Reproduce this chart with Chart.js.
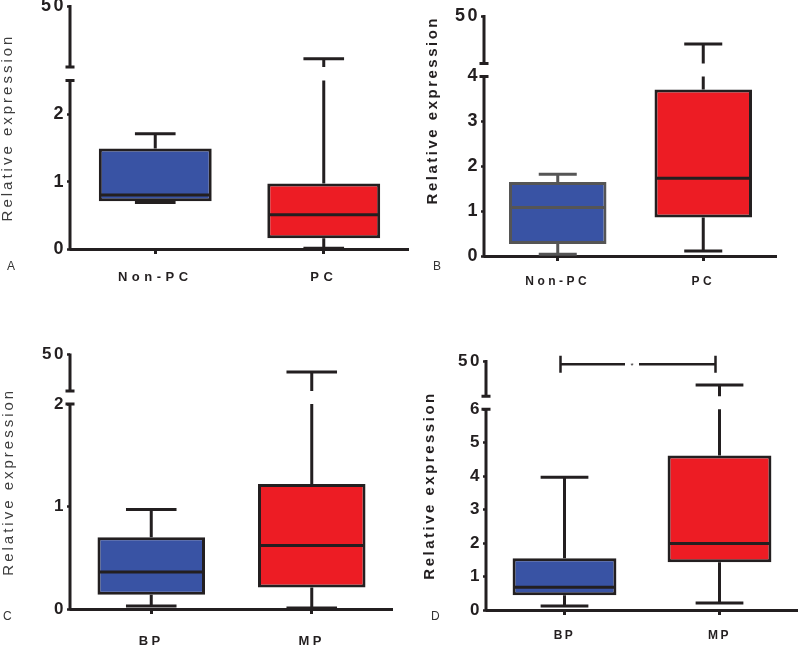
<!DOCTYPE html>
<html>
<head>
<meta charset="utf-8">
<script src="https://cdn.jsdelivr.net/npm/chart.js@4/dist/chart.umd.min.js"></script>
<style>
  body { margin: 0; width: 800px; height: 646px; position: relative; overflow: hidden; background: #fff;
         font-family: 'Liberation Sans', Arial, sans-serif; }
  canvas { position: absolute; }
  .tag { position: absolute; font-size: 12px; line-height: 12px; color: #333; }
</style>
</head>
<body>
<canvas id="chartA"></canvas>
<canvas id="chartB"></canvas>
<canvas id="chartC"></canvas>
<canvas id="chartD"></canvas>
<div class="tag" style="left:7px;top:260px">A</div>
<div class="tag" style="left:433px;top:260px">B</div>
<div class="tag" style="left:3px;top:610px">C</div>
<div class="tag" style="left:431px;top:610px">D</div>
<script>
const groupsPC = ['Non-PC', 'PC'];
const groupsMP = ['BP', 'MP'];

// A : box plot values (min, q1, median, q3, max)
const minA = [0.69, 0.01];
const q1A = [0.71, 0.16];
const medA = [0.80, 0.51];
const q3A = [1.49, 0.97];
const maxA = [1.71, 9];
const ticksA = [0, 1, 2, 50];
const breakA = 2.5;

// B
const minB = [0.04, 0.11];
const q1B = [0.27, 0.86];
const medB = [1.08, 1.73];
const q3B = [1.65, 3.71];
const maxB = [1.82, 23];
const ticksB = [0, 1, 2, 3, 4, 50];
const breakB = 4;

// C
const minC = [0.03, 0.01];
const q1C = [0.14, 0.21];
const medC = [0.36, 0.62];
const q3C = [0.70, 1.22];
const maxC = [0.97, 27];
const ticksC = [0, 1, 2, 50];
const breakC = 2;

// D
const minD = [0.12, 0.21];
const q1D = [0.44, 1.43];
const medD = [0.68, 1.99];
const q3D = [1.55, 4.62];
const maxD = [3.97, 20];
const ticksD = [0, 1, 2, 3, 4, 5, 6, 50];
const breakD = 6;
const sigPairD = [0, 1];
const sigLevelD = 46;
const sigTextD = '*';

const topValue = 50;
const dark = '#231f20';
const blue = '#3953a4';
const red = '#ed1c24';

Chart.defaults.font.family = "'Liberation Sans', Arial, sans-serif";
Chart.defaults.color = dark;

function spaced(ctx, px, fn) {
  ctx.save();
  ctx.letterSpacing = (px || 0) + 'px';
  fn();
  ctx.restore();
}

// linear scale with a gap between a lower and an upper segment
class BrokenScale extends Chart.LinearScale {
  static id = 'broken';
  getPixelForValue(v) {
    if (v === null || v === undefined || isNaN(v)) return NaN;
    const b = this.options.brk;
    const hiBottom = this.top + b.upperPx;
    const loTop = hiBottom + b.gapPx;
    if (v <= b.low) return this.bottom - (v - this.min) / (b.low - this.min) * (this.bottom - loTop);
    return hiBottom - (v - b.low) / (this.max - b.low) * (hiBottom - this.top);
  }
  drawBorder() {
    const ctx = this.ctx;
    const b = this.options.brk;
    const w = this.options.border.width;
    const x = this.right - w / 2 + 0.5;
    const hiBottom = this.top + b.upperPx;
    const loTop = hiBottom + b.gapPx;
    ctx.save();
    ctx.strokeStyle = this.options.border.color;
    ctx.lineWidth = w;
    ctx.beginPath();
    ctx.moveTo(x, this.top - 1); ctx.lineTo(x, hiBottom);
    ctx.moveTo(x, loTop); ctx.lineTo(x, this.bottom + w / 2);
    ctx.moveTo(x - 4.5, hiBottom); ctx.lineTo(x + 4.5, hiBottom);
    ctx.moveTo(x - 4.5, loTop); ctx.lineTo(x + 4.5, loTop);
    ctx.stroke();
    ctx.restore();
  }
  drawLabels(area) { spaced(this.ctx, this.options.labelSpacing, () => super.drawLabels(area)); }
  drawTitle() { spaced(this.ctx, this.options.titleSpacing, () => super.drawTitle()); }
}

class SpacedCategory extends Chart.CategoryScale {
  static id = 'spacedCategory';
  drawLabels(area) { spaced(this.ctx, this.options.labelSpacing, () => super.drawLabels(area)); }
}

Chart.register(BrokenScale, SpacedCategory);

const boxWhiskers = {
  id: 'boxWhiskers',
  afterDatasetsDraw(chart) {
    const {ctx, scales: {y}} = chart;
    const ds = chart.data.datasets[0];
    const meta = chart.getDatasetMeta(0);
    const b = y.options.brk;
    const hiBottom = y.top + b.upperPx;
    ctx.save();
    ctx.lineWidth = ds.borderWidth;
    meta.data.forEach((bar, i) => {
      const cx = bar.x;
      const halfBox = bar.width / 2 - ds.borderWidth / 2;
      const halfCap = bar.width * ds.capFrac / 2;
      ctx.strokeStyle = ds.borderColor[i];
      const yMed = y.getPixelForValue(ds.medians[i]);
      const yQ1 = y.getPixelForValue(ds.data[i][0]);
      const yQ3 = y.getPixelForValue(ds.data[i][1]);
      const yMin = y.getPixelForValue(ds.mins[i]);
      const yMax = y.getPixelForValue(ds.maxs[i]);
      ctx.beginPath();
      ctx.moveTo(cx - halfBox, yMed); ctx.lineTo(cx + halfBox, yMed);
      if (ds.maxs[i] > b.low) {
        ctx.moveTo(cx, yQ3); ctx.lineTo(cx, y.getPixelForValue(b.low));
        ctx.moveTo(cx, hiBottom); ctx.lineTo(cx, yMax);
      } else {
        ctx.moveTo(cx, yQ3); ctx.lineTo(cx, yMax);
      }
      ctx.moveTo(cx - halfCap, yMax); ctx.lineTo(cx + halfCap, yMax);
      ctx.moveTo(cx, yQ1); ctx.lineTo(cx, yMin);
      ctx.moveTo(cx - halfCap, yMin); ctx.lineTo(cx + halfCap, yMin);
      ctx.stroke();
    });
    ctx.restore();
  }
};

const sigBracket = {
  id: 'sigBracket',
  afterDatasetsDraw(chart, args, opts) {
    const {ctx, scales: {x, y}} = chart;
    const x1 = x.getPixelForValue(opts.pair[0]) - 4;
    const x2 = x.getPixelForValue(opts.pair[1]) - 4;
    const yy = y.getPixelForValue(opts.level);
    const mid = (x1 + x2) / 2 - 6;
    ctx.save();
    ctx.strokeStyle = dark;
    ctx.lineWidth = 2.5;
    ctx.beginPath();
    ctx.moveTo(x1, yy); ctx.lineTo(mid - 7, yy);
    ctx.moveTo(mid + 7, yy); ctx.lineTo(x2, yy);
    ctx.moveTo(x1, yy - 8.5); ctx.lineTo(x1, yy + 8.5);
    ctx.moveTo(x2, yy - 8.5); ctx.lineTo(x2, yy + 8.5);
    ctx.stroke();
    ctx.fillStyle = dark;
    ctx.font = "8px 'Liberation Sans', Arial, sans-serif";
    ctx.textAlign = 'center';
    ctx.textBaseline = 'middle';
    ctx.fillText(opts.text, mid, yy + 1.5);
    ctx.restore();
  }
};

const panels = [
  { id: 'chartA', groups: groupsPC, mins: minA, q1: q1A, med: medA, q3: q3A, maxs: maxA, ticks: ticksA, low: breakA,
    box: {x: 0, y: -10, w: 420, h: 310}, area: {l: 71, r: 408, t: 6, b: 249}, upperPx: 61, gapPx: 13.5,
    tickSize: 18, catSize: 13, catSpacing: 4.5, catPad: 16, capFrac: 0.36, strokes: [dark, dark],
    titleBold: false, titleColor: '#3d3d3d', titleAlign: 'center', titlePad: 0, titleSpacing: 3 },
  { id: 'chartB', groups: groupsPC, mins: minB, q1: q1B, med: medB, q3: q3B, maxs: maxB, ticks: ticksB, low: breakB,
    box: {x: 415, y: -10, w: 385, h: 310}, area: {l: 485, r: 776, t: 16, b: 256}, upperPx: 47.5, gapPx: 13,
    tickSize: 18, catSize: 12, catSpacing: 3.5, catPad: 13.5, capFrac: 0.39, strokes: ['#555555', dark],
    titleBold: true, titleColor: dark, titleAlign: 'end', titlePad: 10.5, titleSpacing: 2.5 },
  { id: 'chartC', groups: groupsMP, mins: minC, q1: q1C, med: medC, q3: q3C, maxs: maxC, ticks: ticksC, low: breakC,
    box: {x: 0, y: 320, w: 420, h: 326}, area: {l: 71, r: 392, t: 354.5, b: 609}, upperPx: 36.5, gapPx: 13,
    tickSize: 17, catSize: 13, catSpacing: 3.5, catPad: 20, capFrac: 0.47, strokes: [dark, dark],
    titleBold: false, titleColor: '#3d3d3d', titleAlign: 'center', titlePad: 1.5, titleSpacing: 3 },
  { id: 'chartD', groups: groupsMP, mins: minD, q1: q1D, med: medD, q3: q3D, maxs: maxD, ticks: ticksD, low: breakD,
    box: {x: 415, y: 320, w: 385, h: 326}, area: {l: 487, r: 797, t: 361, b: 610}, upperPx: 35.3, gapPx: 13,
    tickSize: 17, catSize: 12, catSpacing: 2.5, catPad: 13, capFrac: 0.46, strokes: [dark, dark],
    titleBold: true, titleColor: dark, titleAlign: 'center', titlePad: 7.5, titleSpacing: 2.5,
    sig: {pair: sigPairD, level: sigLevelD, text: sigTextD} }
];

function makeChart(p) {
  const canvas = document.getElementById(p.id);
  canvas.width = p.box.w;
  canvas.height = p.box.h;
  canvas.style.left = p.box.x + 'px';
  canvas.style.top = p.box.y + 'px';
  const yWidth = p.area.l - p.box.x;
  const xHeight = p.box.y + p.box.h - p.area.b;

  const plugins = [boxWhiskers];
  if (p.sig) plugins.push(sigBracket);

  new Chart(canvas, {
    type: 'bar',
    data: {
      labels: p.groups,
      datasets: [{
        data: p.q1.map((v, i) => [v, p.q3[i]]),
        medians: p.med,
        mins: p.mins,
        maxs: p.maxs,
        capFrac: p.capFrac,
        backgroundColor: [blue, red],
        borderColor: p.strokes,
        borderWidth: 3,
        borderSkipped: false,
        barPercentage: 0.67,
        categoryPercentage: 1
      }]
    },
    options: {
      responsive: false,
      animation: false,
      events: [],
      layout: { padding: { left: 0, top: p.area.t - p.box.y, right: p.box.x + p.box.w - p.area.r, bottom: 0 } },
      plugins: {
        legend: { display: false },
        tooltip: { enabled: false },
        sigBracket: p.sig || {}
      },
      scales: {
        x: {
          type: 'spacedCategory',
          offset: true,
          labelSpacing: p.catSpacing,
          grid: { offset: false, drawOnChartArea: false, tickLength: 5, tickWidth: 3, tickColor: dark },
          border: { display: true, width: 3, color: dark },
          ticks: { font: { size: p.catSize, weight: 'bold' }, color: dark, padding: p.catPad, maxRotation: 0 },
          afterFit: s => { s.height = xHeight; s.paddingLeft = 0; s.paddingRight = 0; }
        },
        y: {
          type: 'broken',
          min: 0,
          max: topValue,
          brk: { low: p.low, upperPx: p.upperPx, gapPx: p.gapPx },
          labelSpacing: 2.5,
          titleSpacing: p.titleSpacing,
          grid: { drawOnChartArea: false, tickLength: 4, tickWidth: 2.5, tickColor: dark },
          border: { display: true, width: 3, color: dark },
          ticks: { autoSkip: false, font: { size: p.tickSize, weight: 'bold' }, color: dark, padding: 1,
                   callback: v => String(v) },
          afterBuildTicks: s => { s.ticks = p.ticks.map(v => ({ value: v })); },
          title: {
            display: true,
            text: 'Relative expression',
            align: p.titleAlign,
            color: p.titleColor,
            font: { size: 15, weight: p.titleBold ? 'bold' : 'normal', lineHeight: 1 },
            padding: { top: p.titlePad, bottom: 0 }
          },
          afterFit: s => { s.width = yWidth; s.paddingTop = 0; s.paddingBottom = 0; }
        }
      }
    },
    plugins: plugins
  });
}

panels.forEach(makeChart);
</script>
</body>
</html>
